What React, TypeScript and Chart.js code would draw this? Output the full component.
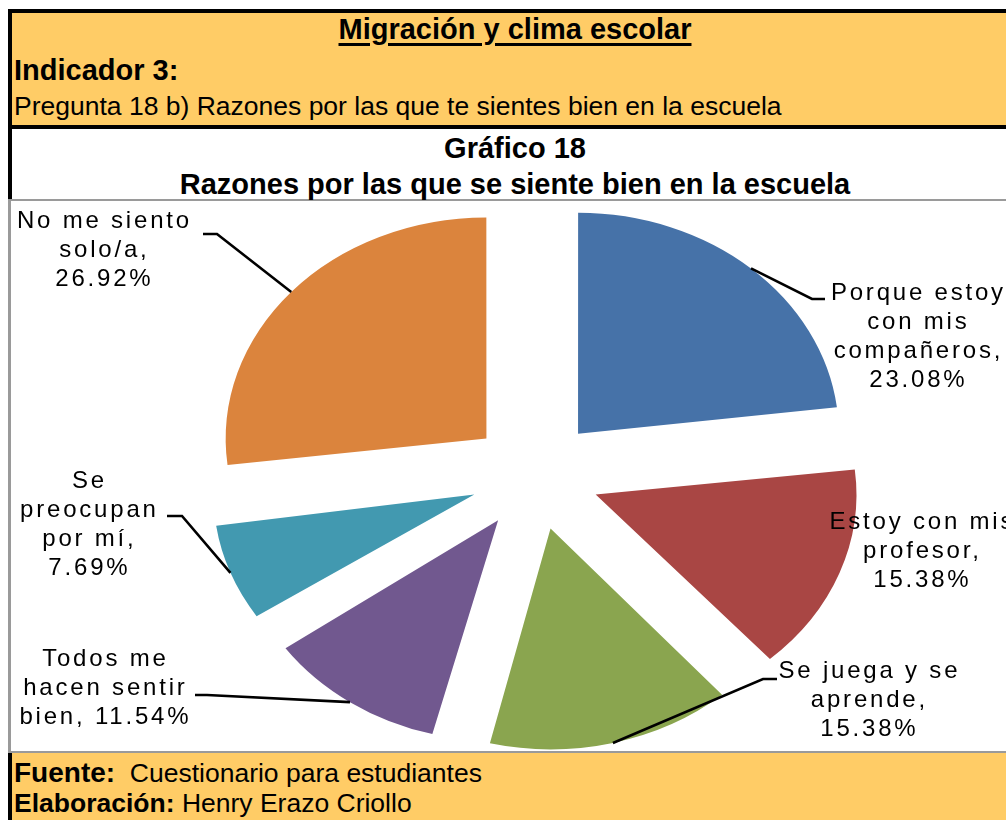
import React, { useEffect, useRef } from "react";
import { Chart, registerables } from "chart.js";

Chart.register(...registerables);

// ---------- data ----------
const categories = [
  "Porque estoy con mis compañeros",
  "Estoy con mis profesor",
  "Se juega y se aprende",
  "Todos me hacen sentir bien",
  "Se preocupan por mí",
  "No me siento solo/a",
];
const percentages = [23.08, 15.38, 15.38, 11.54, 7.69, 26.92];

// label wrapping as in the picture ({p} = percentage)
const labelLines = [
  ["Porque estoy", "con mis", "compañeros,", "{p}"],
  ["Estoy con mis", "profesor,", "{p}"],
  ["Se juega y se", "aprende,", "{p}"],
  ["Todos me", "hacen sentir", "bien, {p}"],
  ["Se", "preocupan", "por mí,", "{p}"],
  ["No me siento", "solo/a,", "{p}"],
];

// ---------- styles / layout ----------
const sliceColors = ["#4672A8", "#A94644", "#8AA54F", "#71588F", "#4299B0", "#DB843D"];
const ORANGE = "#FFCC66";
const FONT = '"Liberation Sans", Arial, sans-serif';
const PIE_RADIUS = 221;
const EXPLODE = 55; // px
const SCALE_X = 1.18; // pie is drawn as an ellipse in the reference

// label block centre + leader (elbow, end) in canvas pixels
const labelLayout: { cx: number; cy: number; elbow: [number, number] | null; end: [number, number] | null }[] = [
  { cx: 905, cy: 134.5, elbow: [800, 97], end: [813, 97] },
  { cx: 909, cy: 349, elbow: null, end: null },
  { cx: 856, cy: 498, elbow: [751, 477], end: [765, 477] },
  { cx: 92, cy: 486, elbow: [195, 493], end: [183, 493] },
  { cx: 76, cy: 322.5, elbow: [170, 314], end: [155, 314] },
  { cx: 91, cy: 48.5, elbow: [205, 32], end: [191, 32] },
];
const LABEL_LINE_H = 29;

const ellipsePiePlugin = {
  id: "ellipsePie",
  afterDatasetsUpdate(chart: any) {
    const meta = chart.getDatasetMeta(0);
    meta.data.forEach((arc: any) => {
      const off = (arc.options?.offset || 0) / 4;
      const circ = arc.endAngle - arc.startAngle;
      const fix = 1 - Math.sin(Math.min(Math.PI, circ));
      arc.outerRadius = PIE_RADIUS - off * fix;
    });
  },
  beforeDatasetsDraw(chart: any) {
    const arc = chart.getDatasetMeta(0).data[0];
    const ctx = chart.ctx;
    ctx.save();
    ctx.translate(arc.x, arc.y);
    ctx.scale(SCALE_X, 1);
    ctx.translate(-arc.x, -arc.y);
  },
  afterDatasetsDraw(chart: any) {
    const ctx = chart.ctx;
    ctx.restore();
    const meta = chart.getDatasetMeta(0);
    ctx.save();
    ctx.font = `24px ${FONT}`;
    (ctx as any).letterSpacing = "2.8px";
    ctx.fillStyle = "#000";
    ctx.strokeStyle = "#000";
    ctx.lineWidth = 2.6;
    ctx.textAlign = "center";
    ctx.textBaseline = "middle";
    meta.data.forEach((arc: any, i: number) => {
      const lay = labelLayout[i];
      const off = (arc.options?.offset || 0) / 4;
      const circ = arc.endAngle - arc.startAngle;
      const fix = 1 - Math.sin(Math.min(Math.PI, circ));
      const R = arc.outerRadius + off * fix;
      const mid = (arc.startAngle + arc.endAngle) / 2;
      const ex = arc.x + Math.cos(mid) * (off + R) * SCALE_X;
      const ey = arc.y + Math.sin(mid) * (off + R);
      if (lay.elbow && lay.end) {
        ctx.beginPath();
        ctx.moveTo(ex, ey);
        ctx.lineTo(lay.elbow[0], lay.elbow[1]);
        ctx.lineTo(lay.end[0], lay.end[1]);
        ctx.stroke();
      }
      const pct = percentages[i].toFixed(2) + "%";
      const lines = labelLines[i].map((l) => l.replace("{p}", pct));
      const y0 = lay.cy - ((lines.length - 1) * LABEL_LINE_H) / 2;
      lines.forEach((l, k) => {
        ctx.fillText(l, lay.cx + 1.4, y0 + k * LABEL_LINE_H);
      });
    });
    ctx.restore();
  },
};

function PieChart() {
  const ref = useRef<HTMLCanvasElement>(null);
  useEffect(() => {
    if (!ref.current) return;
    const chart = new Chart(ref.current, {
      type: "pie",
      data: {
        labels: categories,
        datasets: [
          {
            data: percentages,
            backgroundColor: sliceColors,
            borderWidth: 0,
            offset: EXPLODE * 4,
            hoverOffset: 0,
            clip: false as any,
          },
        ],
      },
      options: {
        responsive: false,
        animation: false,
        events: [],
        radius: PIE_RADIUS,
        layout: { padding: { left: 52, right: 0, top: 0, bottom: 3 } },
        plugins: {
          legend: { display: false },
          tooltip: { enabled: false },
          title: { display: false },
        },
      } as any,
      plugins: [ellipsePiePlugin as any],
    });
    return () => chart.destroy();
  }, []);
  return <canvas ref={ref} width={994} height={549} style={{ display: "block", width: 994, height: 549 }} />;
}

const abs = (s: React.CSSProperties): React.CSSProperties => ({ position: "absolute", ...s });

export default function App() {
  return (
    <div
      style={{
        position: "absolute",
        left: 0,
        top: 0,
        width: 1006,
        height: 820,
        background: "#fff",
        overflow: "hidden",
        fontFamily: FONT,
        color: "#000",
      }}
    >
      {/* backgrounds */}
      <div style={abs({ left: 12, top: 13, width: 994, height: 112, background: ORANGE })} />
      <div style={abs({ left: 12, top: 753, width: 994, height: 67, background: ORANGE })} />
      {/* black borders */}
      <div style={abs({ left: 8, top: 9, width: 998, height: 4, background: "#000" })} />
      <div style={abs({ left: 8, top: 125, width: 998, height: 4, background: "#000" })} />
      <div style={abs({ left: 8, top: 9, width: 4, height: 190, background: "#000" })} />
      <div style={abs({ left: 8, top: 753, width: 4, height: 67, background: "#000" })} />
      {/* grey plot frame */}
      <div style={abs({ left: 8, top: 199, width: 998, height: 2, background: "#9a9a9a" })} />
      <div style={abs({ left: 8, top: 199, width: 3, height: 554, background: "#9a9a9a" })} />
      <div style={abs({ left: 8, top: 751, width: 998, height: 2, background: "#9a9a9a" })} />

      {/* header texts */}
      <div style={abs({ left: 15, top: 14.5, width: 1000, textAlign: "center", fontSize: 29, lineHeight: "29px", fontWeight: "bold", whiteSpace: "nowrap" })}>
        <span style={{ textDecoration: "underline", textDecorationThickness: "3px", textUnderlineOffset: "4px" }}>
          Migración y clima escolar
        </span>
      </div>
      <div style={abs({ left: 14, top: 55.5, fontSize: 29, lineHeight: "29px", fontWeight: "bold", whiteSpace: "nowrap" })}>
        Indicador 3:
      </div>
      <div style={abs({ left: 14, top: 92.6, fontSize: 26.5, lineHeight: "26.5px", whiteSpace: "nowrap" })}>
        Pregunta 18 b) Razones por las que te sientes bien en la escuela
      </div>
      <div style={abs({ left: 15, top: 133.5, width: 1000, textAlign: "center", fontSize: 29, lineHeight: "29px", fontWeight: "bold", whiteSpace: "nowrap" })}>
        Gráfico 18
      </div>
      <div style={abs({ left: 15, top: 169.5, width: 1000, textAlign: "center", fontSize: 29, lineHeight: "29px", fontWeight: "bold", whiteSpace: "nowrap" })}>
        Razones por las que se siente bien en la escuela
      </div>

      {/* chart */}
      <div style={abs({ left: 12, top: 202, width: 994, height: 549 })}>
        <PieChart />
      </div>

      {/* footer */}
      <div style={abs({ left: 14, top: 759.3, fontSize: 28, lineHeight: "28px", whiteSpace: "pre" })}>
        <span style={{ fontWeight: "bold" }}>Fuente:</span>
        <span style={{ fontSize: 26.5 }}>{"  Cuestionario para estudiantes"}</span>
      </div>
      <div style={abs({ left: 14, top: 789.3, fontSize: 26.5, lineHeight: "28px", whiteSpace: "pre" })}>
        <span style={{ fontWeight: "bold" }}>Elaboración:</span>
        <span>{" Henry Erazo Criollo"}</span>
      </div>
    </div>
  );
}
